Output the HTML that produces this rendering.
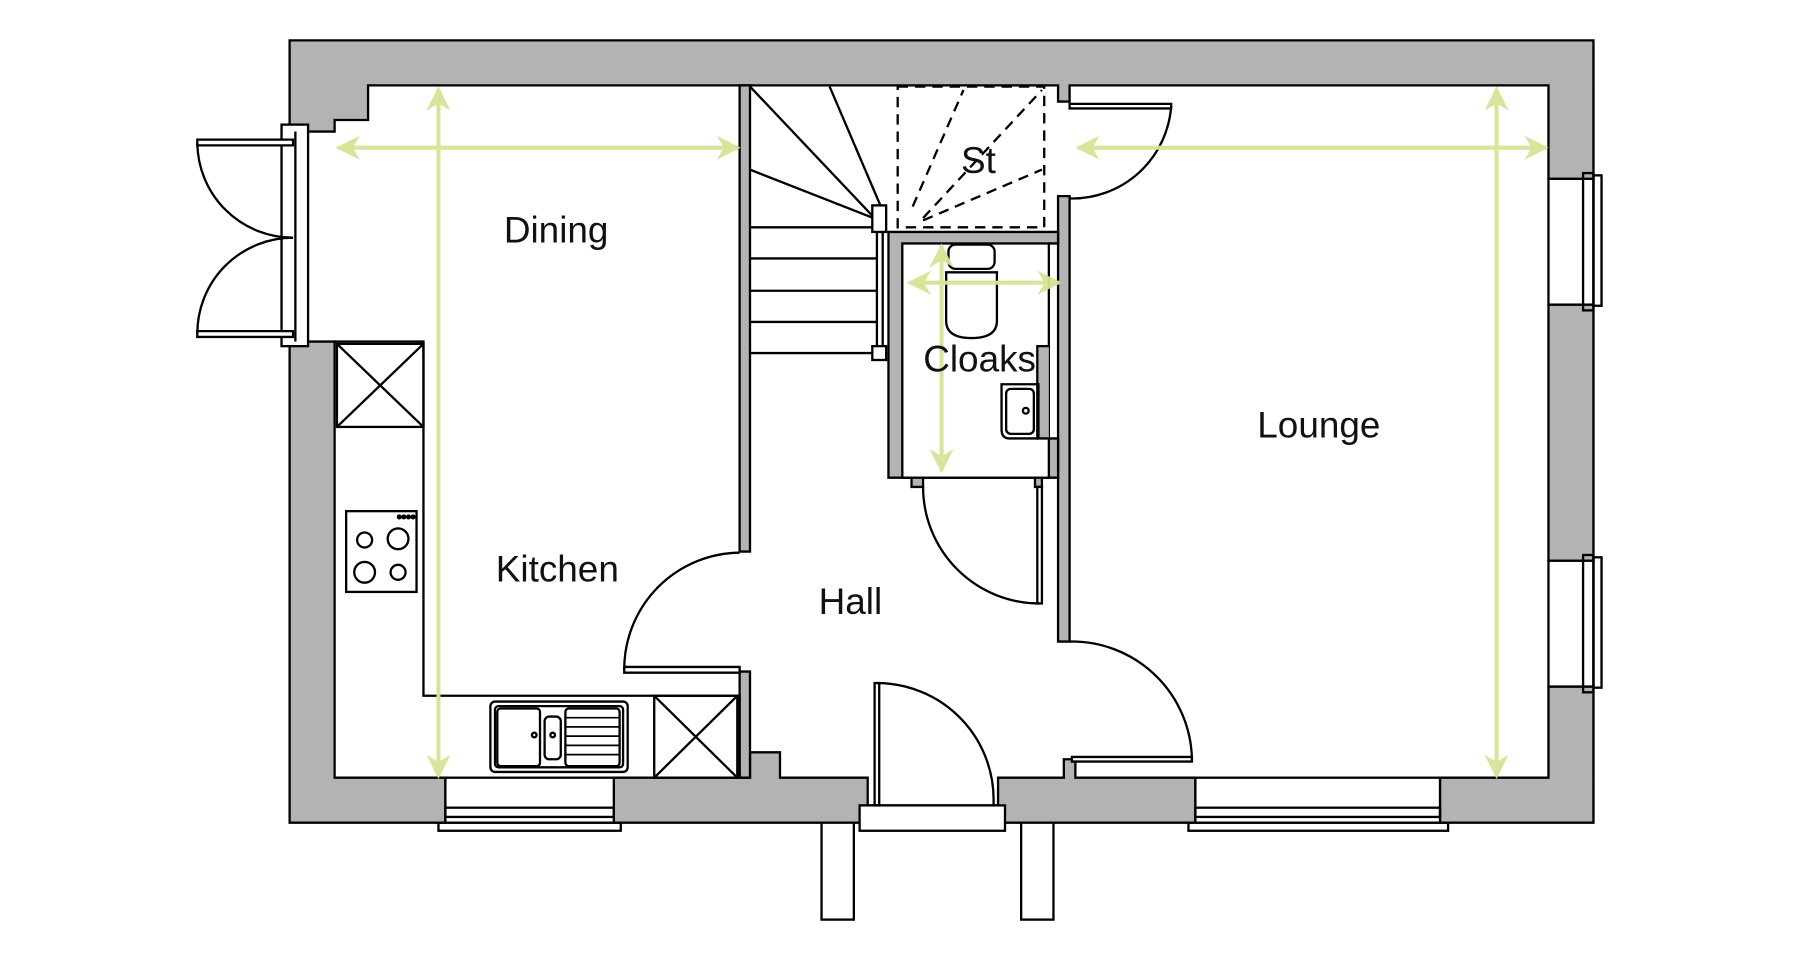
<!DOCTYPE html>
<html><head><meta charset="utf-8"><style>
html,body{margin:0;padding:0;background:#fff;}
svg{display:block;}
text{font-family:"Liberation Sans",sans-serif;fill:#111;}
</style></head><body>
<svg width="1800" height="960" viewBox="0 0 1560 832" xmlns="http://www.w3.org/2000/svg">
<defs>
<marker id="ah" viewBox="0 0 10 10" refX="9" refY="5" markerWidth="6" markerHeight="6" orient="auto-start-reverse">
<path d="M0,0 L10,5 L0,10 L3,5 Z" fill="#d8e294"/>
</marker>
</defs>
<g stroke="#000" stroke-width="2" fill="#b3b3b3" stroke-linejoin="miter">
<path d="M251,35 H1381 V155 H1342 V74 H927 V88 H917 V74 H650 V74 H319 V104 H290 V114 H251 Z"/>
<path d="M1342,264 H1381 V486 H1342 Z"/>
<path d="M1342,595 H1381 V713 H1248 V674 H1342 Z"/>
<path d="M251,296 H290 V674 H386 V713 H251 Z"/>
<path d="M532,674 H641 V674 H650 V652 H676 V674 H752 V713 H532 Z"/>
<path d="M865,674 H922 V658 H932 V674 H1036 V713 H865 Z"/>
<path d="M641,74 H650 V478 H641 Z"/>
<path d="M641,582 H650 V674 H641 Z"/>
<path d="M917,170 H927 V556 H917 Z"/>
<path d="M770,201 H917 V211 H909 V300 H903 V380 H917 V414 H903 V422 H897 V414 H800 V422 H790 V414 H770 Z"/>
</g>
<rect x="782" y="211" width="127" height="203" fill="#fff" stroke="#000" stroke-width="2"/>
<rect x="899" y="300" width="10" height="80" fill="#b3b3b3" stroke="none"/>
<path d="M909,300 H899 V380 H909" fill="none" stroke="#000" stroke-width="2"/>

<g fill="none" stroke="#000" stroke-width="2">
<rect x="244" y="108" width="23" height="192" fill="#fff"/>
<line x1="256" y1="114" x2="256" y2="296"/>
<path d="M171,121 H254 V126 H171 Z" fill="#fff"/>
<path d="M171,287 H254 V292 H171 Z" fill="#fff"/>
<path d="M171,124 A83,83 0 0 0 254,206"/>
<path d="M171,289 A83,83 0 0 1 254,206"/>
<rect x="1342" y="155" width="39" height="109" fill="#fff"/>
<rect x="1372" y="150" width="9" height="119"/>
<rect x="1381" y="152" width="7" height="113"/>
<rect x="1342" y="486" width="39" height="109" fill="#fff"/>
<rect x="1372" y="481" width="9" height="119"/>
<rect x="1381" y="483" width="7" height="113"/>
<rect x="386" y="674" width="146" height="39" fill="#fff"/>
<rect x="386" y="700" width="146" height="8"/>
<rect x="380" y="713" width="158" height="7"/>
<rect x="1036" y="674" width="212" height="39" fill="#fff"/>
<rect x="1036" y="700" width="212" height="8"/>
<rect x="1030" y="713" width="225" height="7"/>
<rect x="745" y="698" width="126" height="22" fill="#fff"/>
<line x1="752" y1="698" x2="865" y2="698"/>
<rect x="758" y="592" width="4" height="106"/>
<path d="M760,592 A101,101 0 0 1 861,698"/>
<rect x="712" y="713" width="28" height="84" fill="#fff"/>
<rect x="885" y="713" width="28" height="84" fill="#fff"/>
<path d="M541,578 H641 V583 H541 Z" fill="#fff"/>
<path d="M541,580 A101,101 0 0 1 641,479"/>
<path d="M927,90 H1015 V94 H927 Z" fill="#fff"/>
<path d="M1015,92 A86,86 0 0 1 927,172"/>
<path d="M929,656 H1033 V660 H929 Z" fill="#fff"/>
<path d="M1033,658 A104,104 0 0 0 927,556"/>
<rect x="899" y="422" width="4" height="101" fill="#fff"/>
<path d="M901,523 A101,101 0 0 1 800,422"/>
<path d="M290,296 H367 V603 H641 V674"/>
<rect x="292" y="298" width="75" height="72"/>
<line x1="292" y1="298" x2="367" y2="370"/><line x1="367" y1="298" x2="292" y2="370"/>
<rect x="567" y="603" width="72" height="71"/>
<line x1="567" y1="603" x2="639" y2="674"/><line x1="639" y1="603" x2="567" y2="674"/>
<rect x="300" y="443" width="61" height="70"/>
<circle cx="316" cy="468" r="6.5"/><circle cx="345" cy="467" r="9"/>
<circle cx="316" cy="496" r="9"/><circle cx="345" cy="496" r="6.5"/>
<rect x="425" y="608" width="119" height="61" rx="4"/>
<rect x="429" y="612" width="111" height="53" rx="3"/>
<rect x="431" y="614" width="37" height="50" rx="3"/>
<rect x="472" y="621" width="14" height="37" rx="4"/>
<rect x="490" y="614" width="47" height="50" rx="3"/>
<g stroke-width="1.5">
<line x1="490" y1="622" x2="537" y2="622"/><line x1="490" y1="630" x2="537" y2="630"/>
<line x1="490" y1="638" x2="537" y2="638"/><line x1="490" y1="646" x2="537" y2="646"/>
<line x1="490" y1="654" x2="537" y2="654"/>
</g>
<circle cx="463" cy="637" r="2"/><circle cx="479" cy="637" r="2"/>
<line x1="650" y1="75" x2="757" y2="188"/>
<line x1="719" y1="75" x2="763" y2="178"/>
<line x1="650" y1="147" x2="757" y2="189"/>
<line x1="650" y1="197" x2="760" y2="197"/>
<line x1="650" y1="224" x2="760" y2="224"/>
<line x1="650" y1="252" x2="760" y2="252"/>
<line x1="650" y1="279" x2="760" y2="279"/>
<line x1="650" y1="306" x2="760" y2="306"/>
<rect x="760" y="201" width="5" height="99" fill="#fff"/>
<rect x="756" y="178" width="12" height="23" fill="#fff"/>
<rect x="756" y="300" width="12" height="12" fill="#fff"/>
<g stroke-dasharray="9,6">
<rect x="778" y="75" width="127" height="122"/>
<line x1="791" y1="179" x2="835" y2="78"/>
<line x1="800" y1="189" x2="903" y2="78"/>
<line x1="800" y1="191" x2="903" y2="147"/>
</g>
<rect x="822" y="212" width="40" height="21" rx="6"/>
<path d="M820,236 H864 V278 Q864,293 842,293 Q820,293 820,278 Z"/>
<path d="M868,333 H900 V380 H875 Q868,380 868,372 Z"/>
<rect x="872" y="337" width="24" height="39" rx="4"/>
<circle cx="889" cy="356" r="2.5"/>
</g>
<g fill="#000"><circle cx="346" cy="448" r="2.2"/><circle cx="350" cy="448" r="2.2"/><circle cx="354" cy="448" r="2.2"/><circle cx="358" cy="448" r="2.2"/></g>

<g stroke="#d8e294" stroke-width="3.5" opacity="0.95" marker-start="url(#ah)" marker-end="url(#ah)">
<line x1="293" y1="128" x2="640" y2="128"/>
<line x1="380" y1="77" x2="380" y2="673"/>
<line x1="934" y1="128" x2="1340" y2="128"/>
<line x1="1297" y1="77" x2="1297" y2="673"/>
<line x1="788" y1="245" x2="918" y2="245"/>
<line x1="816" y1="213" x2="816" y2="408"/>
</g>

<g font-size="32">
<text x="482" y="210" text-anchor="middle">Dining</text>
<text x="483" y="504" text-anchor="middle">Kitchen</text>
<text x="737" y="532" text-anchor="middle">Hall</text>
<text x="849" y="322" text-anchor="middle">Cloaks</text>
<text x="848" y="150" text-anchor="middle">St</text>
<text x="1143" y="379" text-anchor="middle">Lounge</text>
</g>
</svg>
</body></html>
